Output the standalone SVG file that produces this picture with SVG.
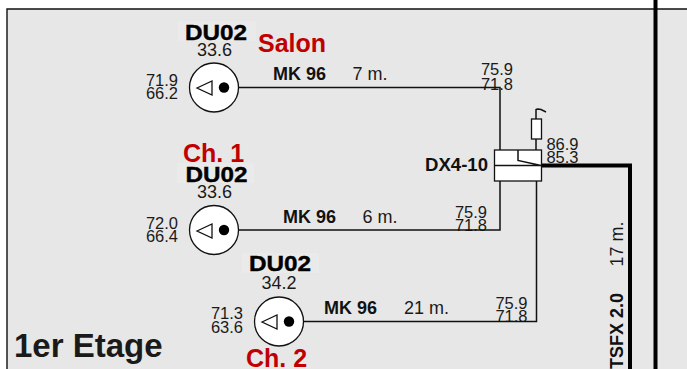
<svg xmlns="http://www.w3.org/2000/svg" width="687" height="369" viewBox="0 0 687 369">
<style>
text{font-family:"Liberation Sans",Arial,sans-serif;fill:#1a1a1a}
.n{font-size:18px;text-anchor:middle}
.s{font-size:16.500px;text-anchor:middle}
.b{font-size:18px;font-weight:700;fill:#111}
.d{font-size:22px;font-weight:700;fill:#000;stroke:#000;stroke-width:.4}
.r{font-size:25px;font-weight:700;fill:#c00000}
.h{fill:#eaeaea}
.w{stroke:#111;stroke-width:1.5;fill:none}
.c{fill:#fff;stroke:#111;stroke-width:1.3}
.t{fill:none;stroke:#111;stroke-width:1.3}
</style>
<rect width="687" height="369" fill="#fff"/>
<rect x="7" y="9" width="680" height="360" fill="#e7e7e7"/>
<path d="M7 369V9H687" fill="none" stroke="#111" stroke-width="1.4"/>
<g id="labels-under">
<text class="s" x="497" y="75">75.9</text>
<text class="s" x="497" y="89.500">71.8</text>
<text class="s" x="471" y="218">75.9</text>
<text class="s" x="471" y="231">71.8</text>
<text class="s" x="511.500" y="309">75.9</text>
<text class="s" x="511.500" y="322">71.8</text>
</g>
<path d="M655.500 0V369" stroke="#000" stroke-width="4" fill="none"/>
<g id="connectors">
<path class="w" d="M239 87.500H500V150"/>
<path class="w" d="M239 230H500V181"/>
<path class="w" d="M304 321.500H536.500V181"/>
<path class="w" d="M536 150V139M536 119V109.500Q536.500 109 538 109L541 109.500L546 112"/>
<path d="M541 165.500H630V369" fill="none" stroke="#000" stroke-width="4"/>
</g>
<g id="dx4-10">
<rect x="494.500" y="150" width="47" height="31" fill="#fff" stroke="#111" stroke-width="1.300"/>
<path class="w" d="M495 165.500H541M518 150V160.500L541 165.500"/>
<rect x="531.500" y="119" width="10" height="20" fill="#fff" stroke="#111" stroke-width="1.300"/>
<text class="b" x="425" y="171" textLength="63" lengthAdjust="spacingAndGlyphs">DX4-10</text>
<text class="s" x="562.500" y="149.500">86.9</text>
<text class="s" x="562.500" y="163">85.3</text>
</g>
<g id="salon">
<circle class="c" cx="214" cy="87.500" r="24.500"/>
<path class="t" d="M197 88L212 81V95Z"/>
<circle cx="224" cy="87.500" r="5.200" fill="#000"/>
<rect class="h" x="178" y="21" width="78" height="20"/>
<text class="d" x="185" y="40" textLength="62" lengthAdjust="spacingAndGlyphs">DU02</text>
<text class="n" x="214.500" y="56">33.6</text>
<text class="s" x="162" y="86">71.9</text>
<text class="s" x="162" y="99">66.2</text>
<text class="r" x="258" y="52">Salon</text>
</g>
<g id="ch1">
<circle class="c" cx="214" cy="230" r="24.500"/>
<path class="t" d="M197 231L212 224V238Z"/>
<circle cx="224" cy="230" r="5.200" fill="#000"/>
<rect class="h" x="177" y="163" width="77" height="20"/>
<text class="d" x="185.500" y="181.500" textLength="62" lengthAdjust="spacingAndGlyphs">DU02</text>
<text class="n" x="214.500" y="198">33.6</text>
<text class="s" x="162" y="228.500">72.0</text>
<text class="s" x="162" y="241.500">66.4</text>
<text class="r" x="183" y="161.500">Ch. 1</text>
</g>
<g id="ch2">
<circle class="c" cx="279" cy="321.500" r="24.500"/>
<path class="t" d="M262 322L277 315V329Z"/>
<circle cx="289" cy="321.500" r="5.200" fill="#000"/>
<rect class="h" x="242" y="253" width="77" height="20"/>
<text class="d" x="249" y="271" textLength="62" lengthAdjust="spacingAndGlyphs">DU02</text>
<text class="n" x="279" y="289">34.2</text>
<text class="s" x="227" y="319">71.3</text>
<text class="s" x="227" y="332.500">63.6</text>
<text class="r" x="246" y="367">Ch. 2</text>
</g>
<g id="labels">
<text class="b" x="273" y="80">MK 96</text>
<text class="n" x="370" y="80">7 m.</text>
<text class="b" x="283" y="223">MK 96</text>
<text class="n" x="380" y="223">6 m.</text>
<text class="b" x="324" y="314">MK 96</text>
<text class="n" x="426.500" y="314">21 m.</text>
<text class="n" transform="translate(623 244) rotate(-90)">17 m.</text>
<text class="b" transform="translate(623 369) rotate(-90)">TSFX 2.0</text>
<text x="14" y="357" font-size="33" font-weight="700" fill="#111">1er Etage</text>
</g>
</svg>
